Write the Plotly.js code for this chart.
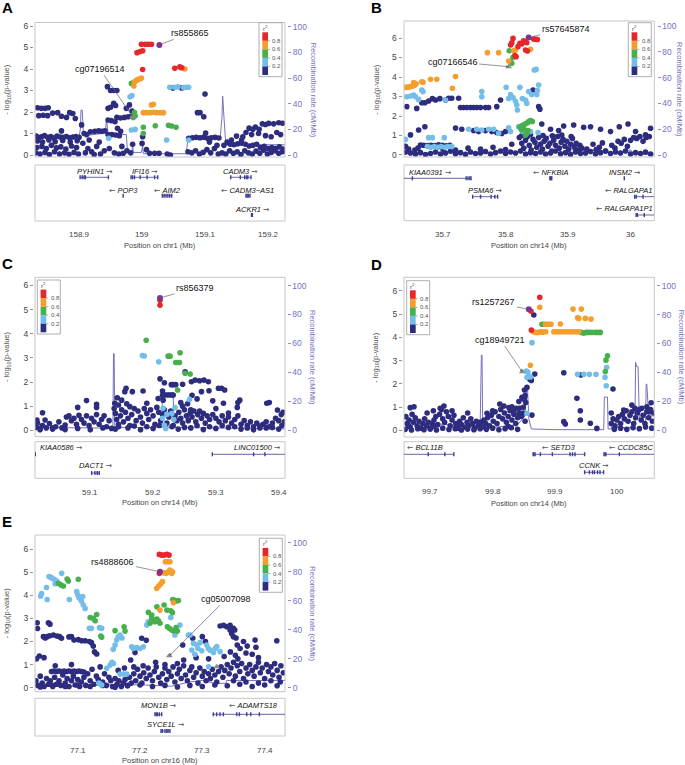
<!DOCTYPE html>
<html><head><meta charset="utf-8">
<script src="https://cdn.plot.ly/plotly-3.0.1.min.js"></script>
<style>body{margin:0;background:#fff}#c{width:685px;height:765px}</style>
</head><body><div id="c"></div><script>
// ---------------- DATA ----------------
// Panel A (chr1)
const navyA=[[158.834,2.2],[158.840,2.17],[158.846,2.17],[158.851,2.2],[158.836,1.83],[158.843,1.85],[158.850,1.83],[158.858,1.95],[158.866,1.97],[158.872,1.8],[158.880,1.75],[158.885,1.97],[158.890,1.93],[158.894,1.7],[158.872,1.12],
[158.832,0.88],[158.836,0.8],[158.840,0.85],[158.845,0.9],[158.850,0.82],[158.855,0.86],[158.860,0.8],[158.865,0.88],[158.870,0.84],[158.875,0.82],[158.880,0.86],[158.885,0.8],[158.890,0.84],[158.895,0.86],[158.900,0.82],
[158.834,0.65],[158.842,0.6],[158.852,0.7],[158.862,0.62],[158.874,0.68],[158.886,0.6],[158.897,0.66],
[158.833,0.35],[158.841,0.4],[158.848,0.3],[158.856,0.45],[158.864,0.33],[158.871,0.38],[158.879,0.28],[158.888,0.42],[158.896,0.35],
[158.831,0.1],[158.838,0.05],[158.846,0.12],[158.853,0.02],[158.861,0.15],[158.869,0.05],[158.877,0.1],[158.884,0.03],[158.892,0.12],[158.899,0.05],
[158.904,1.4],[158.908,1.0],[158.912,0.95],[158.918,1.08],[158.925,1.1],[158.931,1.12],[158.936,1.1],[158.941,1.13],[158.906,0.55],[158.914,0.3],[158.920,0.15],[158.928,0.4],[158.934,0.05],[158.940,0.2],[158.910,0.1],[158.924,0.02],[158.932,0.6],[158.916,0.7],
[158.945,3.18],[158.950,3.0],[158.955,3.0],[158.960,3.0],[158.946,2.17],[158.950,2.22],[158.955,2.4],[158.958,2.3],[158.946,1.63],[158.951,1.6],[158.960,1.75],[158.966,1.72],[158.972,1.75],[158.978,1.78],[158.983,1.8],[158.975,2.17],[158.980,2.33],[158.984,2.05],[158.957,1.55],[158.961,1.24],[158.966,1.1],[158.946,0.95],[158.952,0.95],[158.958,0.93],[158.964,0.9],[158.948,0.3],[158.956,0.1],[158.963,0.05],[158.970,0.08],[158.976,0.2],[158.982,0.1],[158.968,0.4],[158.985,0.5],
[159.000,0.54],[159.001,0.85],[159.007,0.25],[159.012,0.08],[159.020,0.08],[159.027,0.08],[159.040,0.05],[159.045,0.0],[159.049,3.12],[159.063,3.12],
[159.100,2.84],[159.088,1.97],[159.092,1.97],[159.098,1.78],
[159.074,0.78],[159.080,0.8],[159.086,0.82],[159.092,0.8],[159.098,0.83],[159.104,0.78],[159.110,0.8],[159.116,0.82],[159.122,0.79],
[159.073,0.15],[159.079,0.1],[159.085,0.2],[159.091,0.05],[159.097,0.12],[159.103,0.25],[159.109,0.1],[159.115,0.3],[159.121,0.05],[159.101,1.02],[159.107,0.6],[159.119,0.45],
[159.130,0.45],[159.135,0.6],[159.140,0.5],[159.146,0.48],[159.152,0.52],[159.158,0.55],[159.164,0.5],[159.170,0.42],[159.176,0.45],[159.182,0.5],[159.188,0.35],[159.194,0.4],[159.200,0.3],[159.206,0.35],[159.212,0.3],[159.218,0.38],[159.224,0.28],
[159.127,0.1],[159.133,0.05],[159.139,0.2],[159.145,0.08],[159.151,0.15],[159.157,0.02],[159.163,0.2],[159.169,0.1],[159.175,0.05],[159.181,0.18],[159.187,0.08],[159.193,0.22],[159.199,0.05],[159.205,0.12],[159.211,0.2],[159.217,0.08],[159.223,0.15],
[159.142,0.7],[159.150,0.88],[159.158,0.7],[159.165,1.05],[159.170,1.25],[159.176,1.2],[159.180,1.3],[159.186,1.2],[159.191,1.45],[159.196,1.42],[159.201,1.47],[159.209,1.45],[159.217,1.5],[159.223,1.48],[159.185,1.0],[159.196,0.9],[159.205,0.85],[159.214,1.05],[159.220,0.95],[159.160,0.85],[159.174,0.95]];
const lblueA=[[158.947,0.78],[158.981,2.71],[158.984,2.77],[158.983,1.16],[158.989,1.19],[159.044,3.15],[159.052,3.15],[159.057,3.17],[159.066,3.14],[159.070,3.15],[159.074,3.15],[159.039,0.70],[159.074,0.70]];
const greenA=[[158.983,3.33],[158.986,3.35],[158.988,1.97],[158.989,1.81],[158.986,1.75],[159.002,1.29],[159.002,1.0],[159.021,1.36],[159.042,1.38],[159.047,1.35],[159.054,1.29]];
const orangeA=[[158.988,3.41],[158.990,3.44],[158.992,3.49],[158.994,3.52],[158.997,3.55],[158.999,3.58],[158.987,3.21],[159.068,4.0],[159.015,2.33],[159.018,2.36],[159.002,1.97],[159.007,1.97],[159.013,1.97],[159.018,1.99],[159.023,1.97],[159.029,1.97],[159.034,1.97]];
const redA=[[158.999,5.15],[159.005,5.15],[159.010,5.15],[159.015,5.15],[158.992,4.76],[158.997,4.81],[159.001,4.85],[159.001,3.98],[159.052,4.03],[159.060,4.1],[159.063,4.06]];
const leadA=[[159.0275,5.12]];
const cpgA=[[158.985,1.78]];
const recPosA=[158.830,158.900,158.902,158.903,158.905,158.907,158.940,158.942,158.943,158.944,158.946,158.975,158.977,158.984,158.985,158.986,158.999,159.000,159.001,159.002,159.070,159.073,159.124,159.127,159.128,159.130,159.133,159.227];
const recRateA=[14,14,20,35,35,15,17,17,26,26,16,16,2,2,10,2,2,7,7,1,1,13,13,30,46,30,8,8];
const genesA=[
 {name:'PYHIN1',start:158.9016,end:158.9465,row:0,strand:1,exons:[158.9016,158.905,158.908,158.910,158.9465]},
 {name:'IFI16',start:158.9825,end:159.0249,row:0,strand:1,exons:[158.9825,158.985,158.988,158.997,159.008,159.020,159.0249]},
 {name:'CADM3',start:159.1408,end:159.173,row:0,strand:1,exons:[159.1408,159.156,159.163,159.166,159.168,159.173]},
 {name:'POP3',start:158.9695,end:158.971,row:1,strand:-1,exons:[158.970]},
 {name:'AIM2',start:159.0322,end:159.0471,row:1,strand:-1,exons:[159.0322,159.035,159.038,159.041,159.044,159.0471]},
 {name:'CADM3\u2212AS1',start:159.165,end:159.1714,row:1,strand:-1,exons:[159.165,159.167,159.169,159.1714]},
 {name:'ACKR1',start:159.1735,end:159.1755,row:2,strand:1,exons:[159.1738,159.1752]}];

// Panel B (chr14)
const navyB=[[35.642,2.48],[35.658,2.39],[35.666,2.68],[35.671,2.68],[35.677,2.77],[35.683,2.89],[35.688,2.82],[35.695,2.89],[35.704,2.82],[35.709,2.91],[35.714,2.91],[35.725,2.91],
[35.728,2.43],[35.733,2.43],[35.738,2.43],[35.744,2.43],[35.749,2.43],[35.754,2.43],[35.760,2.43],[35.768,2.43],[35.773,2.43],[35.786,2.48],[35.792,2.82],[35.844,3.33],[35.853,2.48],[35.855,2.35],
[35.648,1.03],[35.661,1.28],[35.671,1.45],[35.720,1.38],[35.730,1.32],[35.749,1.25],[35.757,1.2],[35.768,1.25],[35.778,1.2],[35.786,1.15],[35.794,1.1],[35.800,1.2],[35.858,1.59],[35.872,1.32],[35.885,1.25],[35.893,1.49],[35.909,1.54],[35.925,1.42],[35.936,1.45],[35.952,1.32],[35.968,1.2],[35.982,1.45],[35.996,1.59],[36.008,1.2],[36.024,1.03],[36.032,1.37],
[35.664,0.51],[35.669,0.5],[35.675,0.48],[35.681,0.5],[35.687,0.49],[35.693,0.52],[35.699,0.5],[35.705,0.47],[35.711,0.5],
[35.640,0.15],[35.648,0.1],[35.656,0.05],[35.664,0.12],[35.672,0.02],[35.680,0.08],[35.688,0.15],[35.696,0.05],[35.704,0.1],[35.712,0.2],[35.720,0.06],[35.728,0.12],[35.736,0.03],[35.744,0.15],[35.752,0.08],[35.760,0.1],[35.768,0.18],[35.776,0.05],[35.784,0.12],[35.792,0.2],[35.800,0.08],[35.808,0.15],[35.816,0.1],[35.824,0.2],[35.832,0.05],[35.840,0.12],[35.848,0.08],[35.856,0.15],[35.864,0.05],[35.872,0.1],[35.880,0.2],[35.888,0.06],[35.896,0.12],[35.904,0.03],[35.912,0.15],[35.920,0.08],[35.928,0.1],[35.936,0.18],[35.944,0.05],[35.952,0.12],[35.960,0.2],[35.968,0.08],[35.976,0.15],[35.984,0.1],[35.992,0.2],[36.000,0.05],[36.008,0.12],[36.016,0.08],[36.024,0.15],[36.032,0.05],
[35.822,0.9],[35.826,0.6],[35.829,0.35],[35.832,0.75],[35.835,0.95],[35.838,0.5],[35.841,0.25],[35.844,0.8],[35.847,0.65],[35.85,0.4],[35.853,0.9],[35.856,0.55],[35.859,0.3],[35.862,0.7],[35.865,0.85],[35.868,0.45],[35.871,0.6],[35.874,0.2],[35.877,0.75],[35.88,0.5],[35.883,0.95],[35.886,0.35],[35.889,0.65],[35.892,0.8],[35.895,0.45],[35.898,0.7],[35.901,0.3],[35.904,0.55],[35.907,0.85],[35.91,0.4],[35.913,0.6],[35.916,0.25],[35.919,0.5],[35.922,0.35],[35.826,1.0],[35.84,1.05],[35.86,1.0],[35.875,0.98],[35.89,1.02],[35.905,0.95],
[35.93,0.3],[35.94,0.55],[35.95,0.4],[35.96,0.2],[35.97,0.5],[35.975,0.35],[35.98,0.7],[35.985,0.6],[35.99,0.8],[35.995,0.45],[36.0,0.75],[36.005,0.9],[36.01,0.85],[36.015,0.95],[36.02,0.7],[36.025,0.9],[36.03,0.95],[35.945,0.28],[35.955,0.62],
[35.64,0.45],[35.645,0.3],[35.655,0.25],[35.66,0.35],[35.7,0.3],[35.72,0.25],[35.74,0.35],[35.76,0.3],[35.78,0.4],[35.8,0.28],[35.81,0.55]];
const lblueB=[[35.642,2.99],[35.648,3.02],[35.653,3.08],[35.656,2.99],[35.661,2.85],[35.666,3.33],[35.668,3.25],[35.704,2.82],[35.762,3.25],[35.762,2.99],[35.801,3.47],[35.805,2.9],[35.808,3.1],[35.812,2.95],[35.816,2.75],[35.818,2.56],[35.819,2.31],[35.823,3.47],[35.827,2.9],[35.832,2.82],[35.834,2.65],[35.837,3.25],[35.842,3.1],[35.846,4.36],[35.849,4.39],[35.850,3.1],[35.851,3.3],[35.853,3.59],
[35.640,0.8],[35.677,0.89],[35.683,0.89],[35.702,0.89],[35.675,0.43],[35.68,0.4],[35.686,0.43],[35.692,0.4],[35.697,0.43],[35.703,0.4],[35.708,0.43],[35.714,0.43],
[35.741,1.32],[35.754,1.32],[35.762,1.28],[35.773,1.32],[35.781,1.32],[35.789,1.12],[35.805,1.4],[35.808,1.2],[35.821,1.45],[35.824,1.35],[35.827,1.2],[35.84,1.2],[35.852,1.15]];
const greenB=[[35.806,5.35],[35.808,4.79],[35.810,4.7],[35.812,5.01],[35.823,1.45],[35.826,1.5],[35.829,1.55],[35.832,1.6],[35.835,1.65],[35.837,1.71],[35.840,1.76],[35.843,1.72],[35.829,1.35],[35.832,1.03],[35.834,1.1],[35.836,1.25],[35.826,1.3]];
const orangeB=[[35.638,3.47],[35.641,3.47],[35.644,3.48],[35.647,3.5],[35.650,3.52],[35.653,3.55],[35.655,3.6],[35.653,3.71],[35.657,3.65],[35.666,3.76],[35.668,3.73],[35.680,3.88],[35.690,3.88],[35.715,3.42],[35.720,4.02],[35.771,5.25],[35.789,5.25],[35.805,4.82],[35.813,5.35],[35.816,5.38],[35.840,5.42]];
const redB=[[35.812,5.98],[35.808,5.64],[35.810,5.75],[35.815,5.1],[35.817,5.04],[35.820,5.56],[35.823,5.73],[35.826,5.7],[35.829,5.86],[35.831,5.8],[35.834,5.76],[35.832,5.38],[35.835,5.33],[35.845,5.95],[35.848,5.93],[35.851,5.92]];
const leadB=[[35.837,6.02]];
const cpgB=[[35.805,4.53]];
const recPosB=[35.6376,35.70,35.75,35.80,35.82,35.825,35.835,35.845,35.85,35.86,35.87,35.88,35.89,35.90,35.91,35.92,35.93,35.95,35.97,35.99,36.0,36.005,36.02,36.039];
const recRateB=[1,1.5,1,1.5,2,5,6,5,8,12,15,14,12,10,8,6,4,3,2,2,4,1,0.5,0.5];
const genesB=[
 {name:'KIAA0391',start:35.58,end:35.7448,row:0,strand:1,exons:[35.651,35.737,35.740,35.743,35.7448]},
 {name:'PSMA6',start:35.7474,end:35.7874,row:1,strand:1,exons:[35.7474,35.760,35.777,35.783,35.7874]},
 {name:'NFKBIA',start:35.8705,end:35.8745,row:0,strand:-1,exons:[35.871,35.872,35.873,35.874]},
 {name:'INSM2',start:35.9895,end:35.991,row:0,strand:1,exons:[35.990]},
 {name:'RALGAPA1',start:36.0066,end:36.20,row:1,strand:-1,exons:[36.0066,36.009,36.020]},
 {name:'RALGAPA1P1',start:36.009,end:36.20,row:2,strand:-1,exons:[36.009,36.011,36.022]}];

// Panel C (chr14)
const navyC=[[59.251,2.42],[59.211,2.13],[59.218,1.97],[59.229,1.89],[59.232,1.89],[59.236,1.89],[59.247,1.91],[59.261,2.01],[59.267,2.08],[59.274,2.05],[59.281,2.08],[59.288,2.01],[59.277,1.6],[59.289,1.64],[59.304,1.74],[59.309,1.74],[59.314,1.67],[59.312,1.12],[59.334,0.95],[59.338,1.25],[59.335,1.15],[59.381,1.12],[59.385,1.15],[59.398,0.84],[59.404,0.65],[59.407,0.75],[59.215,1.63],[59.215,1.45],[59.216,1.25],[59.219,1.46],[59.224,1.46],[59.229,1.46],[59.232,1.46],[59.184,1.63],[59.155,1.6],[59.157,1.74],[59.167,1.6],[59.139,1.12],[59.143,1.35],[59.150,1.25],[59.145,1.05],[59.158,1.1],[59.163,0.98],[59.094,1.23],[59.080,0.95],[59.110,1.08],[59.110,0.95],[59.024,0.73],[59.028,0.43],[59.015,0.43],[59.190,1.12],[59.208,1.32],[59.247,1.0],[59.244,1.15],[59.262,1.45],[59.27,1.3],[59.26,0.85],[59.3,0.9],[59.32,0.72],[59.295,1.22],[59.255,1.1],
[59.013,0.12],[59.016,0.3],[59.02,0.08],[59.024,0.2],[59.03,0.1],[59.035,0.28],[59.04,0.05],[59.045,0.15],[59.05,0.35],[59.055,0.1],[59.06,0.22],[59.062,0.55],[59.066,0.6],[59.07,0.4],[59.074,0.5],[59.078,0.25],[59.082,0.62],[59.086,0.45],[59.09,0.3],[59.094,0.6],[59.098,0.2],[59.102,0.5],[59.106,0.35],[59.11,0.65],[59.114,0.25],[59.118,0.45],[59.122,0.6],[59.126,0.15],[59.13,0.4],[59.134,0.08],
[59.138,0.9],[59.14,0.7],[59.142,0.45],[59.145,0.25],[59.148,0.6],[59.15,0.85],[59.153,0.35],[59.156,0.75],[59.16,0.5],[59.163,0.2],[59.166,0.65],[59.17,0.9],[59.173,0.4],[59.176,0.8],[59.18,0.55],[59.183,0.3],[59.186,0.9],[59.19,0.7],[59.193,0.45],[59.196,0.85],[59.2,0.6],[59.203,0.25],[59.206,0.95],[59.209,0.75],[59.212,0.4],[59.215,0.65],[59.218,0.85],[59.222,0.3],[59.225,0.55],[59.228,0.8],[59.232,0.2],[59.235,0.6],[59.238,0.4],[59.241,0.75],[59.244,0.5],[59.247,0.3],[59.25,0.85],[59.253,0.6],[59.256,0.4],[59.259,0.7],[59.262,0.55],[59.265,0.8],[59.268,0.35],[59.271,0.65],[59.274,0.8],[59.277,0.5],[59.28,0.7],[59.283,0.3],[59.286,0.6],[59.29,0.45],[59.295,0.65],[59.3,0.5],[59.305,0.35],[59.31,0.6],[59.315,0.4],[59.32,0.55],[59.325,0.3],[59.33,0.45],[59.335,0.6],[59.34,0.25],[59.345,0.4],[59.35,0.2],[59.355,0.35],[59.36,0.15],[59.365,0.3],[59.37,0.1],[59.375,0.25],[59.38,0.35],[59.385,0.15],[59.39,0.3],[59.395,0.5],[59.4,0.4],[59.405,0.2],[59.409,0.35],
[59.02,0.02],[59.04,0.1],[59.06,0.03],[59.08,0.08],[59.1,0.02],[59.12,0.1],[59.14,0.05],[59.16,0.1],[59.18,0.02],[59.2,0.08],[59.22,0.12],[59.24,0.05],[59.26,0.1],[59.28,0.03],[59.3,0.08],[59.32,0.12],[59.34,0.05],[59.36,0.02],[59.38,0.1],[59.4,0.05],[59.145,0.15],[59.17,0.18],[59.19,0.15],[59.21,0.2],[59.23,0.15],[59.25,0.12],[59.27,0.2],[59.29,0.15],[59.31,0.2],[59.33,0.15],[59.35,0.1],[59.37,0.18],[59.39,0.12]];
const lblueC=[[59.183,3.1],[59.186,3.08],[59.209,2.84],[59.258,1.28],[59.216,0.91],[59.235,0.94],[59.222,0.66],[59.230,0.7],[59.233,0.45],[59.218,0.21],[59.220,0.08],[59.215,0.5]];
const greenC=[[59.189,3.73],[59.224,3.07],[59.227,3.07],[59.243,3.21],[59.236,2.81],[59.239,2.81],[59.242,2.81],[59.251,2.36],[59.259,2.33],[59.239,1.67]];
const orangeC=[];
const redC=[[59.211,5.38],[59.211,5.18]];
const leadC=[[59.211,5.48]];
const cpgC=[];
const recPosC=[59.012,59.05,59.10,59.136,59.137,59.138,59.139,59.18,59.214,59.215,59.216,59.232,59.233,59.30,59.35,59.41];
const recRateC=[2,2,1.5,1.5,53,53,2,2,2,26,26,26,2,1.5,1,1];
const genesC=[
 {name:'KIAA0586',start:58.95,end:59.0135,row:0,strand:1,exons:[59.0125]},
 {name:'LINC01500',start:59.2943,end:59.45,row:0,strand:1,exons:[59.2943,59.36,59.378]},
 {name:'DACT1',start:59.1011,end:59.1154,row:1,strand:1,exons:[59.1022,59.1075,59.1111,59.1143]}];

// Panel D (chr14)
const navyD=[[99.866,4.96],[99.8675,2.42],[99.8595,2.2],[99.862,2.15],[99.861,2.25],[99.914,2.48],[99.9416,2.38],[99.9928,1.78],[99.935,1.38],[99.9405,0.85],[99.9405,0.45],[99.855,1.85],[99.851,1.74],[99.847,1.42],[99.8495,1.35],[99.851,1.4],[99.852,1.5],[99.842,1.24],[99.853,1.2],[99.849,1.0],[99.674,1.02],[99.722,1.05],[99.8115,1.14],[99.826,0.99],[99.834,0.88],[99.842,0.74],[99.791,0.74],[99.80,0.85],[99.863,0.66],[99.914,0.38],[99.9165,0.28],[99.9565,0.31],[99.967,0.09],[100.023,1.09],[100.039,0.95],[100.047,1.02],[100.05,0.9],[100.054,1.19],[100.052,0.8],
[99.661,0.6],[99.663,0.3],[99.666,0.45],[99.668,0.15],[99.671,0.7],[99.673,0.35],[99.676,0.55],[99.679,0.2],[99.682,0.4],[99.685,0.1],[99.688,0.3],[99.691,0.5],[99.694,0.2],[99.697,0.35],[99.7,0.1],[99.703,0.3],[99.706,0.45],[99.709,0.6],[99.712,0.25],[99.715,0.7],[99.718,0.9],[99.72,0.5],[99.723,0.35],[99.726,0.8],[99.729,0.6],[99.732,0.2],[99.735,0.45],[99.738,0.65],[99.741,0.3],[99.744,0.1],[99.747,0.4],[99.75,0.25],[99.753,0.55],[99.756,0.15],[99.759,0.35],[99.762,0.2],[99.765,0.5],[99.768,0.3],[99.771,0.1],[99.774,0.4],[99.777,0.2],[99.78,0.35],[99.783,0.15],[99.786,0.45],[99.789,0.3],[99.792,0.55],[99.795,0.2],[99.798,0.65],[99.801,0.4],[99.804,0.8],[99.807,0.3],[99.81,0.6],[99.813,0.9],[99.816,0.5],[99.819,0.75],[99.822,0.35],[99.825,0.6],[99.828,0.85],[99.831,0.45],[99.834,0.7],[99.837,0.3],[99.84,0.55],[99.843,0.95],[99.846,0.6],[99.849,0.75],[99.852,0.4],
[99.66,0.05],[99.67,0.02],[99.68,0.08],[99.69,0.03],[99.7,0.06],[99.71,0.02],[99.72,0.1],[99.73,0.04],[99.74,0.08],[99.75,0.02],[99.76,0.06],[99.77,0.03],[99.78,0.08],[99.79,0.05],[99.8,0.1],[99.81,0.03],[99.82,0.08],[99.83,0.12],[99.84,0.05],[99.665,0.22],[99.705,0.18],[99.745,0.2],[99.785,0.22],[99.825,0.18],
[99.668,0.98],[99.695,0.75],[99.705,0.85],[99.716,0.95],[99.735,0.85],[99.76,0.75],[99.818,1.05],[99.831,1.02],[99.838,0.95],
[99.99,0.3],[99.993,0.5],[99.996,0.2],[99.999,0.45],[100.002,0.6],[100.005,0.3],[100.008,0.7],[100.011,0.5],[100.014,0.85],[100.017,0.4],[100.02,0.65],[100.023,0.8],[100.026,0.3],[100.029,0.55],[100.032,0.75],[100.035,0.9],[100.038,0.45],[100.041,0.65],[100.044,0.3],[100.047,0.8],[100.05,0.55],[100.053,0.9],[100.056,0.4],[100.058,0.75],[99.995,0.05],[100.005,0.1],[100.015,0.05],[100.025,0.12],[100.035,0.08],[100.045,0.15],[100.055,0.1],[99.99,0.75],[100.01,0.88],[100.028,0.95]];
const lblueD=[[99.863,3.77],[99.854,2.55],[99.8565,2.5],[99.855,2.28],[99.8605,2.3],[99.936,2.41],[99.946,2.41],[99.955,2.41],[99.9656,2.41],[99.9827,2.71],[99.98,2.28],[99.982,1.92],[99.855,0.74]];
const greenD=[[99.879,4.56],[99.8815,4.56],[99.942,4.21],[99.946,4.18],[99.95,4.21],[99.954,4.21],[99.959,4.21],[99.9645,4.21],[99.9685,4.21],[99.9725,4.21],[99.984,3.21],[99.9816,3.02],[99.9805,2.53]];
const orangeD=[[99.8755,5.29],[99.9288,5.21],[99.942,5.21],[99.936,4.84],[99.938,4.81],[99.9485,4.81],[99.9576,4.78],[99.9085,4.57],[99.8845,4.56],[99.8872,4.56],[99.89,4.56],[99.8935,4.56],[99.865,4.24],[99.869,4.21],[99.873,4.21],[99.877,4.24],[99.88,4.22],[99.885,4.24],[99.898,4.24],[99.902,4.24],[99.906,4.24],[99.91,4.24],[99.914,4.24],[99.918,4.24],[99.922,4.24],[99.926,4.24],[99.93,4.24],[99.934,4.24],[99.938,4.24],[99.8605,2.8]];
const redD=[[99.8755,5.72],[99.862,4.31],[99.8615,5.12]];
const leadD=[[99.858,5.2]];
const cpgD=[[99.8475,2.52]];
const recPosD=[99.658,99.70,99.75,99.78,99.782,99.783,99.784,99.786,99.80,99.84,99.852,99.854,99.856,99.858,99.862,99.90,99.95,99.978,99.979,99.984,99.985,99.99,99.992,99.994,100.0,100.02,100.028,100.029,100.031,100.033,100.035,100.045,100.046,100.047,100.05,100.059];
const recRateD=[8,5,3,3,52,52,5,3,2,4,10,28,28,8,1,0.5,0.5,0.5,23,23,1,1,5,1,2,2,5,47,44,44,8,5,32,32,10,10];
const genesD=[
 {name:'BCL11B',start:99.60,end:99.7378,row:0,strand:-1,exons:[99.6968,99.7234,99.7378]},
 {name:'SETD3',start:99.8648,end:99.9474,row:0,strand:-1,exons:[99.8648,99.866,99.868,99.8765,99.8957,99.924,99.928,99.932,99.9474]},
 {name:'CCDC85C',start:99.9784,end:100.10,row:0,strand:-1,exons:[99.9784,99.980,99.9815,100.003]},
 {name:'CCNK',start:99.9474,end:99.9778,row:1,strand:1,exons:[99.9474,99.955,99.96,99.963,99.968,99.972,99.9778]}];

// Panel E (chr16)
const navyE=[[77.035,2.81],[77.0355,2.56],[77.053,2.81],[77.0555,2.75],[77.045,2.21],[77.048,2.15],[77.051,2.21],[77.055,2.25],[77.061,2.28],[77.067,2.24],[77.071,2.21],[77.074,2.14],[77.086,2.2],[77.09,2.21],[77.094,2.06],[77.101,2.08],[77.1064,2.03],[77.112,2.03],[77.1187,2.0],[77.122,1.95],[77.125,1.8],[77.127,1.55],[77.1305,1.46],[77.0385,1.37],[77.034,1.25],[77.046,1.3],[77.064,0.95],[77.09,1.0],[77.2027,2.14],[77.21,2.05],[77.192,1.52],[77.185,1.2],[77.2685,1.85],[77.2846,2.14],[77.3,2.21],[77.305,2.0],[77.3285,2.67],[77.334,2.7],[77.339,2.64],[77.3445,2.7],[77.3498,2.57],[77.352,2.5],[77.3445,2.5],[77.347,2.35],[77.3498,2.21],[77.354,2.15],[77.356,1.85],[77.3606,1.7],[77.366,2.0],[77.372,1.8],[77.3846,2.06],[77.386,1.75],[77.4194,2.03],[77.353,1.4],[77.357,1.25],[77.345,1.55],[77.335,1.35],[77.38,1.45],[77.39,1.3],[77.37,1.5],[77.225,1.1],[77.24,1.0],[77.26,1.05],[77.27,1.2],[77.29,1.3],[77.31,1.25],[77.205,0.95],[77.19,0.9],[77.175,0.85],[77.165,0.75],
[77.058,0.7],[77.062,0.72],[77.066,0.7],[77.07,0.72],[77.074,0.7],[77.078,0.72],[77.082,0.7],[77.086,0.72],[77.09,0.7],[77.094,0.72],[77.098,0.7],[77.102,0.72],[77.106,0.7],[77.11,0.68],
[77.033,0.3],[77.036,0.1],[77.04,0.5],[77.043,0.2],[77.046,0.05],[77.05,0.4],[77.053,0.15],[77.056,0.3],[77.06,0.05],[77.063,0.45],[77.066,0.15],[77.07,0.3],[77.073,0.1],[77.076,0.55],[77.08,0.2],[77.083,0.4],[77.086,0.05],[77.09,0.3],[77.093,0.5],[77.096,0.12],[77.1,0.35],[77.103,0.05],[77.106,0.25],[77.11,0.45],[77.113,0.1],[77.116,0.6],[77.12,0.3],[77.123,0.8],[77.126,0.15],[77.13,0.5],[77.133,0.35],[77.136,0.9],[77.14,0.25],[77.143,0.6],[77.146,0.1],[77.15,0.45],[77.153,0.3],[77.156,0.05],[77.16,0.4],[77.163,0.15],[77.166,0.3],[77.17,0.05],[77.173,0.2],[77.176,0.35],[77.18,0.1],[77.183,0.45],[77.186,0.2],[77.19,0.6],[77.193,0.3],[77.196,0.8],[77.2,0.5],[77.203,0.2],[77.206,0.65],[77.21,0.4],[77.213,0.85],[77.216,0.55],[77.22,0.3],[77.223,0.7],[77.226,0.9],[77.23,0.45],[77.233,0.2],[77.236,0.6],[77.24,0.85],[77.243,0.35],[77.246,0.7],[77.25,0.5],[77.253,0.9],[77.256,0.25],[77.26,0.6],[77.263,0.8],[77.266,0.4],[77.27,0.95],[77.273,0.55],[77.276,0.3],[77.28,0.75],[77.283,0.9],[77.286,0.45],[77.29,0.65],[77.293,0.2],[77.296,0.85],[77.3,0.5],[77.303,0.7],[77.306,0.3],[77.31,0.6],[77.313,0.4],[77.316,0.8],[77.32,0.55],[77.323,0.25],[77.326,0.7],[77.33,0.9],[77.333,0.45],[77.336,0.75],[77.34,1.0],[77.343,0.6],[77.346,0.85],[77.35,1.1],[77.353,0.5],[77.356,0.95],[77.36,0.7],[77.363,1.05],[77.366,0.4],[77.37,0.85],[77.373,0.6],[77.376,1.0],[77.38,0.75],[77.383,0.5],[77.386,0.9],[77.39,1.1],[77.393,0.65],[77.396,0.85],[77.4,0.4],[77.403,1.0],[77.406,0.7],[77.41,0.9],[77.413,0.55],[77.416,1.05],[77.42,0.75],[77.423,0.45],[77.426,0.95],[77.43,0.65],
[77.04,0.03],[77.06,0.1],[77.08,0.05],[77.1,0.12],[77.12,0.05],[77.14,0.1],[77.16,0.02],[77.18,0.08],[77.2,0.12],[77.22,0.05],[77.24,0.1],[77.26,0.03],[77.28,0.1],[77.3,0.05],[77.32,0.12],[77.34,0.08],[77.36,0.15],[77.38,0.05],[77.4,0.12],[77.42,0.08],[77.35,0.3],[77.37,0.25],[77.39,0.2],[77.41,0.3],[77.425,0.25]];
const lblueE=[[77.0406,3.97],[77.042,4.08],[77.05,4.34],[77.051,3.82],[77.054,4.81],[77.057,4.78],[77.059,4.74],[77.062,4.69],[77.066,4.63],[77.064,4.5],[77.0743,4.95],[77.0866,3.82],[77.0984,4.16],[77.100,4.02],[77.102,3.9],[77.104,3.85],[77.106,3.75],[77.109,3.58],[77.112,3.43],[77.108,3.95],[77.1187,2.57],[77.122,2.57],[77.1385,2.57],[77.135,2.6],[77.16,1.85],[77.1626,2.06],[77.165,2.2],[77.168,2.28],[77.171,2.15],[77.157,1.66],[77.1519,0.98],[77.1466,0.84],[77.155,1.1],[77.1573,1.05],[77.168,0.59],[77.1733,0.59],[77.1787,0.59],[77.1867,1.77],[77.1893,1.7],[77.1947,1.74],[77.2,1.7],[77.2054,1.77],[77.2108,2.71],[77.213,2.85],[77.2493,3.04],[77.256,2.28],[77.264,2.71],[77.2776,2.28],[77.2803,2.28],[77.283,1.63],[77.2857,1.92],[77.291,1.85],[77.2964,1.95],[77.293,1.7],[77.299,1.6],[77.307,1.85],[77.3097,1.7],[77.3124,1.62],[77.3178,1.52],[77.3205,1.7],[77.3232,1.78],[77.3285,1.56],[77.31,0.91],[77.136,0.16],[77.1385,0.12],[77.134,0.2],[77.288,1.45]];
const greenE=[[77.2525,3.82],[77.255,3.78],[77.258,3.75],[77.2616,3.77],[77.2386,3.58],[77.243,3.36],[77.2493,3.33],[77.252,3.25],[77.227,3.5],[77.2134,3.26],[77.2188,3.15],[77.2214,2.93],[77.224,2.86],[77.227,2.97],[77.2295,2.9],[77.232,2.79],[77.2161,2.79],[77.2186,3.0],[77.244,2.64],[77.247,2.57],[77.2509,2.5],[77.2536,2.46],[77.2578,2.6],[77.26,2.45],[77.069,4.52],[77.077,4.4],[77.073,4.45],[77.083,4.7],[77.085,4.62],[77.101,4.69],[77.12,3.04],[77.1251,3.0],[77.1305,3.17],[77.128,2.9],[77.137,2.24],[77.1385,2.18],[77.16,2.47],[77.1744,2.64],[77.176,2.45]];
const orangeE=[[77.2407,5.45],[77.2445,5.45],[77.248,5.45],[77.2375,4.98],[77.2418,4.95],[77.2455,5.02],[77.248,5.09],[77.251,4.95],[77.252,5.02],[77.2268,4.3],[77.23,4.4],[77.2332,4.5],[77.236,4.59],[77.232,3.36],[77.2536,3.68]];
const redE=[[77.231,5.77],[77.235,5.74],[77.2386,5.74],[77.243,5.77],[77.2466,5.74],[77.231,4.95]];
const leadE=[[77.232,5.02]];
const cpgE=[[77.247,1.38],[77.323,0.91]];
const recPosE=[77.0315,77.10,77.15,77.20,77.25,77.28,77.30,77.32,77.338,77.339,77.36,77.40,77.4326];
const recRateE=[1,1,2,2,1,4,5,3,3,5,5,5,5];
const genesE=[
 {name:'MON1B',start:77.224,end:77.2348,row:0,strand:1,exons:[77.224,77.226,77.228,77.231,77.2348]},
 {name:'ADAMTS18',start:77.316,end:77.448,row:0,strand:-1,exons:[77.3177,77.3230,77.3283,77.3337,77.3552,77.3594,77.3712,77.3777,77.3915]},
 {name:'SYCE1L',start:77.2337,end:77.248,row:1,strand:1,exons:[77.2337,77.236,77.24,77.243,77.245,77.248]}];

// ---------------- LAYOUT CONFIG ----------------
const W=685,H=765;
const FONT='Liberation Sans, Arial, Helvetica, sans-serif';
const C={navy:'#2d2c7e',lblue:'#74bde8',green:'#47b04d',orange:'#f59d2d',red:'#e5262b',lead:'#7a3590',cpg:'#8c8c8c'};
const REC='#7571bf', GENE='#3f3d95', BOX='#c6c6c6';
const px=x=>x/W, py=y=>1-y/H;

const panels=[
 {L:'A',box:[35,285,22.5,157],gb:[165,221],yl:[-0.093,6.163],yr:[-1.56,103.3],xr:[158.830,159.227],xt:[158.9,159,159.1,159.2],xtt:['158.9','159','159.1','159.2'],lax:33,rax:287,lt:7,rt:313,letter:[7.5,8],leg:[259,22.7],rows:[177.3,195.7,215],lrows:[172,190.7,209.3],tickY:234,titleY:246,chr:'chr1',
  g:{navy:navyA,lblue:lblueA,green:greenA,orange:orangeA,red:redA},lead:leadA,cpg:cpgA,rec:[recPosA,recRateA],genes:genesA,
  labs:[{t:'rs855865',p:leadA[0],o:[31,-12],h:false},{t:'cg07196514',p:cpgA[0],o:[-33,-48],h:true}]},
 {L:'B',box:[404,654.3,21,157],gb:[165,220.7],yl:[-0.103,6.872],yr:[-1.55,103.9],xr:[35.6376,36.038],xt:[35.7,35.8,35.9,36],xtt:['35.7','35.8','35.9','36'],lax:401.5,rax:656.5,lt:376.7,rt:680,letter:[376.7,8],leg:[628.3,22.7],rows:[178.3,196.7,215],lrows:[172.3,190.7,209],tickY:234.7,titleY:246,chr:'chr14',
  g:{navy:navyB,lblue:lblueB,green:greenB,orange:orangeB,red:redB},lead:leadB,cpg:cpgB,rec:[recPosB,recRateB],genes:genesB,
  labs:[{t:'rs57645874',p:leadB[0],o:[37,-9],h:false},{t:'cg07166546',p:cpgB[0],o:[-56,-5],h:true}]},
 {L:'C',box:[35,285,277.3,436.7],gb:[441.7,478.3],yl:[-0.264,6.335],yr:[-4.41,105.7],xr:[59.012,59.410],xt:[59.1,59.2,59.3,59.4],xtt:['59.1','59.2','59.3','59.4'],lax:33,rax:286.5,lt:7,rt:313,letter:[7.5,263.5],leg:[37.3,280],rows:[454.3,473],lrows:[447.7,466],tickY:492.3,titleY:502.7,chr:'chr14',
  g:{navy:navyC,lblue:lblueC,green:greenC,orange:orangeC,red:redC},lead:leadC,cpg:cpgC,rec:[recPosC,recRateC],genes:genesC,
  labs:[{t:'rs856379',p:leadC[0],o:[35,-10],h:false}]},
 {L:'D',box:[404,654.3,277.3,437],gb:[441.7,478.3],yl:[-0.279,6.575],yr:[-4.55,105.7],xr:[99.658,100.059],xt:[99.7,99.8,99.9,100],xtt:['99.7','99.8','99.9','100'],lax:402,rax:656,lt:375.7,rt:681.5,letter:[376.5,264],leg:[406.7,280.7],rows:[454.3,472.3],lrows:[447.7,466],tickY:491.7,titleY:503.3,chr:'chr14',
  g:{navy:navyD,lblue:lblueD,green:greenD,orange:orangeD,red:redD},lead:leadD,cpg:cpgD,rec:[recPosD,recRateD],genes:genesD,
  labs:[{t:'rs1257267',p:leadD[0],o:[-35,-7],h:false},{t:'cg18949721',p:cpgD[0],o:[-22,-32],h:true}]},
 {L:'E',box:[35,285,535,691.7],gb:[698.3,736],yl:[-0.173,6.61],yr:[-2.76,105.3],xr:[77.0315,77.4326],xt:[77.1,77.2,77.3,77.4],xtt:['77.1','77.2','77.3','77.4'],lax:33,rax:287,lt:7,rt:313,letter:[6.5,521],leg:[259.3,538.3],rows:[714.3,731],lrows:[705,724],tickY:750,titleY:760,chr:'chr16',
  g:{navy:navyE,lblue:lblueE,green:greenE,orange:orangeE,red:redE},lead:leadE,cpg:cpgE,rec:[recPosE,recRateE],genes:genesE,
  labs:[{t:'rs4888606',p:leadE[0],o:[-47,-10],h:false},{t:'cg05007098',p:cpgE[0],o:[57,-57],h:true}]}
];

const traces=[], shapes=[], ann=[];
const layout={width:W,height:H,margin:{l:0,r:0,t:0,b:0},paper_bgcolor:'#fff',plot_bgcolor:'rgba(0,0,0,0)',showlegend:false,font:{family:FONT,size:8,color:'#444'}};
const nm=(p,k)=>k===1?p:p+k, lk=(p,k)=>p+'axis'+(k===1?'':k);

panels.forEach((P,i)=>{
  const n=i+1, kxs=2*n-1, kxg=2*n, kyr=3*n-2, kyl=3*n-1, kyg=3*n;
  const xs=nm('x',kxs), xg=nm('x',kxg), yr=nm('y',kyr), yl=nm('y',kyl), yg=nm('y',kyg);
  const [bx0,bx1,by0,by1]=P.box;
  layout[lk('x',kxs)]={domain:[px(bx0),px(bx1)],range:P.xr,visible:false,anchor:yr,fixedrange:true};
  layout[lk('y',kyr)]={domain:[py(by1),py(by0)],range:P.yr,side:'right',anchor:'free',position:px(P.rax),tickvals:[0,20,40,60,80,100],ticks:'outside',ticklen:3,tickwidth:0.8,tickcolor:REC,tickfont:{size:8.5,color:REC,family:FONT},showgrid:false,zeroline:false,showline:false};
  layout[lk('y',kyl)]={overlaying:yr,range:P.yl,side:'left',anchor:'free',position:px(P.lax),tickvals:[0,1,2,3,4,5,6],ticks:'outside',ticklen:3,tickwidth:0.8,tickcolor:'#777',tickfont:{size:8.5,color:'#444',family:FONT},showgrid:false,zeroline:false,showline:false};
  layout[lk('x',kxg)]={domain:[px(bx0),px(bx1)],range:P.xr,anchor:yg,showticklabels:false,ticks:'',showgrid:false,zeroline:false,showline:false};
  layout[lk('y',kyg)]={domain:[py(P.gb[1]),py(P.gb[0])],range:[0,1],visible:false,anchor:xg};

  traces.push({type:'scatter',mode:'lines',x:P.rec[0],y:P.rec[1],xaxis:xs,yaxis:yr,line:{color:REC,width:1},hoverinfo:'skip'});
  ['navy','lblue','green','orange','red'].forEach(k=>{
    const d=P.g[k];
    traces.push({type:'scatter',mode:'markers',x:d.map(a=>a[0]),y:d.map(a=>a[1]),xaxis:xs,yaxis:yl,marker:{size:5.6,color:C[k],line:{width:0}},cliponaxis:true,hoverinfo:'skip'});
  });
  traces.push({type:'scatter',mode:'markers',x:P.lead.map(a=>a[0]),y:P.lead.map(a=>a[1]),xaxis:xs,yaxis:yl,marker:{size:6,color:C.lead,line:{width:0}},hoverinfo:'skip'});
  if(P.cpg.length) traces.push({type:'scatter',mode:'markers',x:P.cpg.map(a=>a[0]),y:P.cpg.map(a=>a[1]),xaxis:xs,yaxis:yl,marker:{size:6,symbol:'triangle-up',color:C.cpg,line:{width:0}},hoverinfo:'skip'});

  shapes.push({type:'rect',xref:'paper',yref:'paper',x0:px(bx0),x1:px(bx1),y0:py(by1),y1:py(by0),line:{color:BOX,width:1}});
  shapes.push({type:'rect',xref:'paper',yref:'paper',x0:px(bx0),x1:px(bx1),y0:py(P.gb[1]),y1:py(P.gb[0]),line:{color:BOX,width:1}});

  // gene-axis tick labels (at data positions on the gene axis)
  P.xt.forEach((v,j)=>{
    ann.push({xref:xg,yref:'paper',x:v,y:py(P.tickY),text:P.xtt[j],showarrow:false,xanchor:'center',yanchor:'middle',font:{size:8,color:'#444'}});
  });

  const mbPerPx=(P.xr[1]-P.xr[0])/(bx1-bx0);
  P.genes.forEach(G=>{
    const yL=P.rows[G.row];
    const s=Math.max(G.start,P.xr[0]), e=Math.min(G.end,P.xr[1]);
    shapes.push({type:'line',xref:xg,yref:'paper',x0:s,x1:e,y0:py(yL),y1:py(yL),line:{color:GENE,width:0.8}});
    G.exons.forEach(ex=>{
      if(ex<P.xr[0]||ex>P.xr[1]) return;
      shapes.push({type:'rect',xref:xg,yref:'paper',x0:ex-0.7*mbPerPx,x1:ex+0.7*mbPerPx,y0:py(yL+2),y1:py(yL-2),line:{width:0},fillcolor:GENE});
    });
    const w=G.name.length*4.4+12;
    let c=(G.start+G.end)/2;
    const lo=P.xr[0]+(w/2+2)*mbPerPx, hi=P.xr[1]-(w/2+2)*mbPerPx;
    c=Math.min(Math.max(c,lo),hi);
    const arrow='<span style="font-family:DejaVu Sans;color:#555">\u2192</span>', larrow='<span style="font-family:DejaVu Sans;color:#555">\u2190</span>';
    const txt=G.strand>0?'<i>'+G.name+'</i> '+arrow:larrow+' <i>'+G.name+'</i>';
    ann.push({xref:xg,yref:'paper',x:c,y:py(P.lrows[G.row]),text:txt,showarrow:false,xanchor:'center',yanchor:'middle',font:{size:7.5,color:'#111',family:FONT}});
  });

  ann.push({xref:'paper',yref:'paper',x:px((bx0+bx1)/2),y:py(P.titleY),text:'Position on '+P.chr+' (Mb)',showarrow:false,xanchor:'center',yanchor:'middle',font:{size:7.5,color:'#444'}});
  ann.push({xref:'paper',yref:'paper',x:px(P.lt),y:py((by0+by1)/2),text:'- log<sub>10</sub>(p-value)',textangle:-90,showarrow:false,xanchor:'center',yanchor:'middle',font:{size:7.5,color:'#555'}});
  ann.push({xref:'paper',yref:'paper',x:px(P.rt),y:py((by0+by1)/2),text:'Recombination rate (cM/Mb)',textangle:90,showarrow:false,xanchor:'center',yanchor:'middle',font:{size:7.5,color:REC}});
  ann.push({xref:'paper',yref:'paper',x:px(P.letter[0]),y:py(P.letter[1]),text:'<b>'+P.L+'</b>',showarrow:false,xanchor:'center',yanchor:'middle',font:{size:15,color:'#000'}});

  P.labs.forEach(l=>{
    ann.push({xref:xs,yref:yl,x:l.p[0],y:l.p[1],text:l.t,showarrow:true,ax:l.o[0],ay:l.o[1],arrowhead:l.h?2:0,arrowsize:0.7,arrowwidth:0.7,arrowcolor:'#666',standoff:l.h?0:3,font:{size:9,color:'#111'}});
  });

  const [lx,ly]=P.leg;
  shapes.push({type:'rect',xref:'paper',yref:'paper',x0:px(lx),x1:px(lx+23),y0:py(ly+54),y1:py(ly),fillcolor:'#fff',line:{color:'#9a9a9a',width:0.8}});
  const segs=['red','orange','green','lblue','navy'], top=ly+9.6, sh=8.54;
  segs.forEach((k,j)=>{
    shapes.push({type:'rect',xref:'paper',yref:'paper',x0:px(lx+3.3),x1:px(lx+9),y0:py(top+(j+1)*sh),y1:py(top+j*sh),fillcolor:C[k],line:{width:0}});
  });
  ['0.8','0.6','0.4','0.2'].forEach((t,j)=>{
    const yy=top+(j+1)*sh;
    shapes.push({type:'line',xref:'paper',yref:'paper',x0:px(lx+9),x1:px(lx+11),y0:py(yy),y1:py(yy),line:{color:'#777',width:0.6}});
    ann.push({xref:'paper',yref:'paper',x:px(lx+11.3),y:py(yy),text:t,showarrow:false,xanchor:'left',yanchor:'middle',font:{size:6,color:'#555'}});
  });
  ann.push({xref:'paper',yref:'paper',x:px(lx+6.2),y:py(ly+5),text:'r<sup>2</sup>',showarrow:false,xanchor:'center',yanchor:'middle',font:{size:6,color:'#444'}});
});

layout.shapes=shapes; layout.annotations=ann;
Plotly.newPlot('c',traces,layout,{staticPlot:true,displayModeBar:false});
</script></body></html>
